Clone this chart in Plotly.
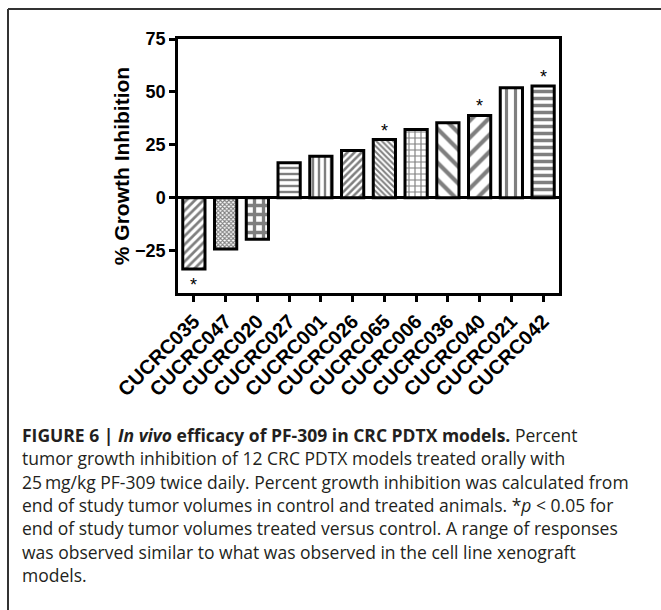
import plotly.graph_objects as go

models = ["CUCRC035", "CUCRC047", "CUCRC020", "CUCRC027", "CUCRC001", "CUCRC026",
          "CUCRC065", "CUCRC006", "CUCRC036", "CUCRC040", "CUCRC021", "CUCRC042"]
growth_inhibition = [-33.7, -24.2, -19.6, 16.5, 19.6, 22.3, 27.5, 32.3, 35.4, 38.9, 52.0, 52.8]
significant = [True, False, False, False, False, False, True, False, False, True, False, True]
y_ticks = [-25, 0, 25, 50, 75]

pattern_shapes = ["/", "x", "+", "-", "|", "/", "\\", "+", "\\", "/", "|", "-"]
pattern_sizes = [6, 3, 9, 6, 6, 5, 4, 6, 12, 12, 9, 7]
pattern_solid = [0.45, 0.6, 0.6, 0.4, 0.4, 0.5, 0.5, 0.35, 0.35, 0.35, 0.35, 0.5]

caption_lines = [
    "<b>FIGURE 6 | <i>In vivo</i> efficacy of PF-309 in CRC PDTX models.</b> Percent",
    "tumor growth inhibition of 12 CRC PDTX models treated orally with",
    "25\u2009mg/kg PF-309 twice daily. Percent growth inhibition was calculated from",
    "end of study tumor volumes in control and treated animals. *<i>p</i> &lt; 0.05 for",
    "end of study tumor volumes treated versus control. A range of responses",
    "was observed similar to what was observed in the cell line xenograft",
    "models.",
]

L, R, T, B = 178, 102, 39, 317
W, H = 661, 610
pw, ph = W - L - R, H - T - B


def px_x(px):
    return (px - L) / pw


def px_y(py):
    return (H - B - py) / ph


fig = go.Figure()
fig.add_trace(go.Bar(
    x=models, y=growth_inhibition, width=0.7,
    marker=dict(
        color="white",
        line=dict(color="black", width=3),
        pattern=dict(shape=pattern_shapes, size=pattern_sizes, solidity=pattern_solid,
                     fgcolor="black", bgcolor="white", fillmode="overlay"),
    ),
    showlegend=False,
))

for m, v, s in zip(models, growth_inhibition, significant):
    if s:
        fig.add_annotation(x=m, y=v, text="*", showarrow=False,
                           font=dict(size=18, color="black", family="Liberation Sans"),
                           yshift=(9 if v > 0 else -16), yanchor="middle")

font_main = "Liberation Sans, Arial, sans-serif"
fig.update_layout(
    width=W, height=H,
    margin=dict(l=L, r=R, t=T, b=B),
    paper_bgcolor="white", plot_bgcolor="white",
    font=dict(family=font_main, color="black"),
)
fig.update_xaxes(
    range=[-0.5, 11.5], showline=True, linecolor="black", linewidth=2.5, mirror=True,
    ticks="outside", ticklen=6, tickwidth=2.5, tickcolor="black", tickangle=-45,
    tickfont=dict(size=20, family=font_main, weight="bold"),
    showgrid=False,
)
fig.update_yaxes(
    range=[-45, 75], tickvals=y_ticks, showline=True, linecolor="black", linewidth=2.5,
    mirror=True, ticks="outside", ticklen=6, tickwidth=2.5, tickcolor="black",
    tickfont=dict(size=18, family=font_main, weight="bold"),
    zeroline=True, zerolinecolor="black", zerolinewidth=2.5, showgrid=False,
    title=dict(text="<b>% Growth Inhibition</b>", font=dict(size=21), standoff=0),
)

# frame lines
fig.add_shape(type="line", xref="paper", yref="paper", x0=px_x(8), x1=px_x(661),
              y0=px_y(9), y1=px_y(9), line=dict(color="#333", width=2))
fig.add_shape(type="line", xref="paper", yref="paper", x0=px_x(8), x1=px_x(8),
              y0=px_y(9), y1=px_y(612), line=dict(color="#333", width=2))

line_centers = [435, 458, 482, 505, 528, 552, 575]
for txt, cy in zip(caption_lines, line_centers):
    fig.add_annotation(xref="paper", yref="paper", x=px_x(20), y=px_y(cy),
                       xanchor="left", yanchor="middle", showarrow=False, align="left",
                       text=txt,
                       font=dict(size=17.5, color="#231f20",
                                 family="Open Sans, Liberation Sans, sans-serif"))

fig.write_html("out.html")
